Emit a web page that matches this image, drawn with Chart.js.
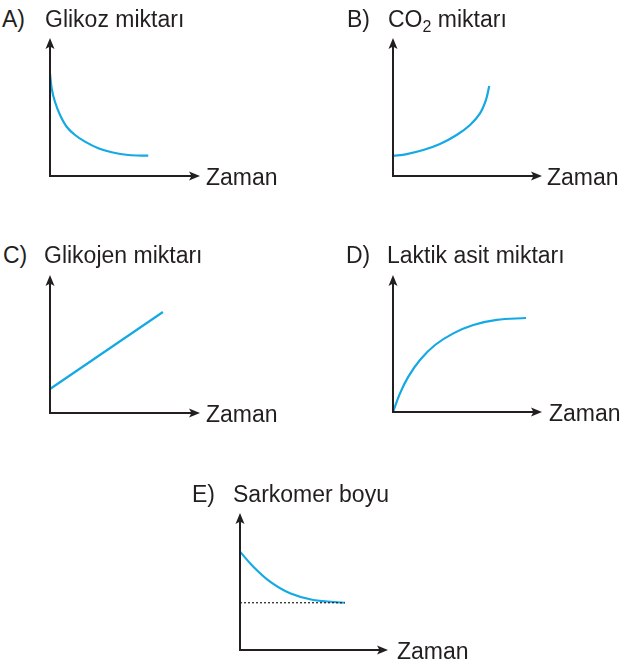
<!DOCTYPE html>
<html>
<head>
<meta charset="utf-8">
<script src="https://cdn.jsdelivr.net/npm/chart.js@4"></script>
<style>
  html, body { margin:0; padding:0; background:#fff; }
  body { width:625px; height:662px; position:relative; overflow:hidden; font-family:"Liberation Sans", Arial, sans-serif; color:#231f20; }
  canvas { position:absolute; }
  .t { position:absolute; font-size:23px; line-height:23px; white-space:nowrap; }
  sub { font-size:16px; vertical-align:-5px; line-height:0; }
</style>
</head>
<body>
<script>
// ---- data (arbitrary units; x: 0..10 along time axis, y: 0..10 up the value axis) ----
const panelLetters = ["A)", "B)", "C)", "D)", "E)"];
const panelTitles = ["Glikoz miktarı", "CO<sub>2</sub> miktarı", "Glikojen miktarı", "Laktik asit miktarı", "Sarkomer boyu"];
const xAxisLabel = "Zaman";

const glikozX = [0, 0.11, 0.33, 0.67, 1.11, 1.67, 2.33, 3.22, 4.11, 5.22, 6.55];
const glikozY = [7.44, 6.36, 5.38, 4.42, 3.57, 2.97, 2.49, 2.01, 1.72, 1.52, 1.47];

const co2X = [0, 0.92, 2.03, 3.15, 4.27, 5.17, 5.84, 6.24, 6.46];
const co2Y = [1.45, 1.59, 1.88, 2.32, 2.97, 3.70, 4.54, 5.51, 6.52];

const glikojenX = [0, 7.53];
const glikojenY = [1.74, 7.32];

const laktikX = [0, 0.47, 1.03, 1.81, 2.82, 4.05, 5.39, 6.96, 8.93];
const laktikY = [0, 1.36, 2.58, 3.80, 4.89, 5.74, 6.35, 6.72, 6.86];

const sarkomerX = [0, 0.90, 2.03, 3.38, 4.95, 7.09];
const sarkomerY = [7.18, 6.08, 4.99, 4.14, 3.65, 3.45];
const sarkomerMinX = [0, 7.09];
const sarkomerMinY = [3.45, 3.45];

// ---- layout ----
const INK = "#231f20";
const CYAN = "#14a9e4";
const PAD = 10;
const panels = [
  { ox:50,  oy:176, xEnd:200, yTop:38,  xs:glikozX,   ys:glikozY,   tension:0.35 },
  { ox:393, oy:176, xEnd:542, yTop:38,  xs:co2X,      ys:co2Y,      tension:0.35 },
  { ox:50,  oy:413, xEnd:200, yTop:275, xs:glikojenX, ys:glikojenY, tension:0 },
  { ox:393, oy:412, xEnd:542, yTop:275, xs:laktikX,   ys:laktikY,   tension:0.35 },
  { ox:240, oy:650, xEnd:388, yTop:513, xs:sarkomerX, ys:sarkomerY, tension:0.35, ref:[sarkomerMinX, sarkomerMinY] }
];
const titlePos = [
  { lx:2,   tx:45,  base:27 },
  { lx:347, tx:388, base:27 },
  { lx:3,   tx:44,  base:263 },
  { lx:346, tx:387, base:263 },
  { lx:192, tx:233, base:502 }
];
const zamanPos = [
  { x:206, base:185 }, { x:547, base:185 }, { x:206, base:422 }, { x:549, base:421 }, { x:397, base:659 }
];

function pts(xs, ys) { return xs.map((x, i) => ({ x: x, y: ys[i] })); }

function addText(html, left, baseline) {
  const d = document.createElement("div");
  d.className = "t";
  d.innerHTML = html;
  d.style.left = left + "px";
  d.style.top = (baseline - 19.5) + "px";
  document.body.appendChild(d);
}

const arrowAxes = {
  id: "arrowAxes",
  afterDraw(chart) {
    const a = chart.chartArea, c = chart.ctx;
    c.save();
    c.strokeStyle = INK; c.fillStyle = INK; c.lineWidth = 2;
    c.beginPath();
    c.moveTo(a.left, a.top + 6); c.lineTo(a.left, a.bottom);
    c.lineTo(a.right - 6, a.bottom);
    c.stroke();
    // up arrow
    c.beginPath();
    c.moveTo(a.left, a.top);
    c.lineTo(a.left + 4.5, a.top + 11);
    c.lineTo(a.left, a.top + 8.5);
    c.lineTo(a.left - 4.5, a.top + 11);
    c.closePath(); c.fill();
    // right arrow
    c.beginPath();
    c.moveTo(a.right, a.bottom);
    c.lineTo(a.right - 11, a.bottom - 4.5);
    c.lineTo(a.right - 8.5, a.bottom);
    c.lineTo(a.right - 11, a.bottom + 4.5);
    c.closePath(); c.fill();
    c.restore();
  }
};

panels.forEach((p, i) => {
  const w = p.xEnd - p.ox + 2 * PAD, h = p.oy - p.yTop + 2 * PAD;
  const cv = document.createElement("canvas");
  cv.width = w; cv.height = h;
  cv.style.width = w + "px"; cv.style.height = h + "px";
  cv.style.left = (p.ox - PAD) + "px"; cv.style.top = (p.yTop - PAD) + "px";
  document.body.appendChild(cv);
  const datasets = [];
  if (p.ref) {
    datasets.push({ data: pts(p.ref[0], p.ref[1]), borderColor: INK, borderWidth: 1.2, borderDash: [2, 2], pointRadius: 0, tension: 0, clip: false });
  }
  datasets.push({ data: pts(p.xs, p.ys), borderColor: CYAN, borderWidth: 2.2, pointRadius: 0, tension: p.tension, clip: false });
  new Chart(cv, {
    type: "line",
    data: { datasets },
    options: {
      responsive: false, animation: false, devicePixelRatio: 1,
      layout: { padding: PAD },
      plugins: { legend: { display: false }, tooltip: { enabled: false } },
      scales: {
        x: { type: "linear", min: 0, max: 10, display: false },
        y: { type: "linear", min: 0, max: 10, display: false }
      }
    },
    plugins: [arrowAxes]
  });
  addText(panelLetters[i], titlePos[i].lx, titlePos[i].base);
  addText(panelTitles[i], titlePos[i].tx, titlePos[i].base);
  addText(xAxisLabel, zamanPos[i].x, zamanPos[i].base);
});
</script>
</body>
</html>
